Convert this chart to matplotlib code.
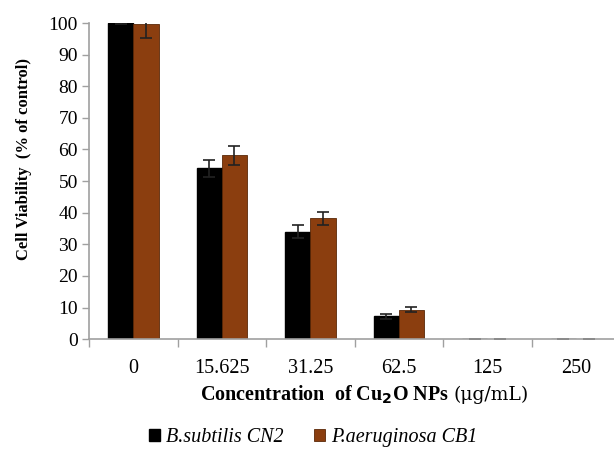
import numpy as np
import matplotlib
matplotlib.use("Agg")
import matplotlib.pyplot as plt

plt.rcParams["font.family"] = ["Liberation Serif", "DejaVu Serif"]

concentrations = ["0", "15.625", "31.25", "62.5", "125", "250"]
bsub_values = [100.0, 54.0, 34.0, 7.2, 0.0, 0.0]
bsub_err = [0.3, 2.8, 2.0, 0.9, 0.0, 0.0]
paer_values = [99.6, 58.1, 38.2, 9.3, 0.0, 0.0]
paer_err = [4.5, 2.9, 2.0, 0.8, 0.0, 0.0]

black = "#000000"
brown = "#8B3E0F"
axis_grey = "#A0A0A0"

fig = plt.figure(figsize=(6.14, 4.51), dpi=100)
ax = fig.add_axes([0.145, 0.248, 0.855, 0.701])

x = np.arange(len(concentrations))
w = 0.285
ekw = dict(ecolor="#222222", elinewidth=1.2, capsize=4, capthick=1.2)

ax.bar(x - w / 2, bsub_values, w, color=black, edgecolor=black,
       yerr=[bsub_err, bsub_err], error_kw=ekw, label="B.subtilis CN2")
ax.bar(x + w / 2, paer_values, w, color=brown, edgecolor="#5a2808", linewidth=0.6,
       yerr=[paer_err, paer_err], error_kw=ekw, label="P.aeruginosa CB1")

ax.set_ylim(0, 100)
ax.set_xlim(-0.5, 5.43)
ax.set_yticks(range(0, 101, 10))
ax.tick_params(axis="y", labelsize=14, color=axis_grey, length=5, width=1, pad=3)

# category ticks at boundaries, labels at centres
ax.set_xticks(np.arange(-0.5, 5.0, 1.0))
ax.set_xticklabels([])
ax.set_xticks(x, minor=True)
ax.set_xticklabels(concentrations, minor=True, fontsize=14.5)
ax.tick_params(axis="x", which="major", color=axis_grey, length=6, width=1)
ax.tick_params(axis="x", which="minor", length=0, pad=14)

for s in ["top", "right"]:
    ax.spines[s].set_visible(False)
for s in ["left", "bottom"]:
    ax.spines[s].set_color(axis_grey)
    ax.spines[s].set_linewidth(1.2)

ax.set_ylabel("Cell Viability  (% of control)", fontsize=12, fontweight="bold")
ax.yaxis.set_label_coords(-0.108, 0.57)

# x label: bold part + plain unit part placed right after it
t1 = fig.text(0.325, 0.125, r"Concentration  of Cu$_\mathbf{2}$O NPs", fontsize=14.5,
              fontweight="bold", ha="left", va="center")
fig.canvas.draw()
bb = t1.get_window_extent()
fig.text(bb.x1 / fig.bbox.width + 0.008, 0.125, "(\u03bcg/mL)", fontsize=13.5,
         ha="left", va="center", family=["DejaVu Serif"])

leg = fig.legend(loc="center", bbox_to_anchor=(0.51, 0.03), ncol=2, frameon=False,
                 handlelength=0.55, handleheight=0.55, handletextpad=0.3, columnspacing=1.5,
                 prop={"style": "italic", "size": 14.5})

fig.savefig("out.png", dpi=100)
